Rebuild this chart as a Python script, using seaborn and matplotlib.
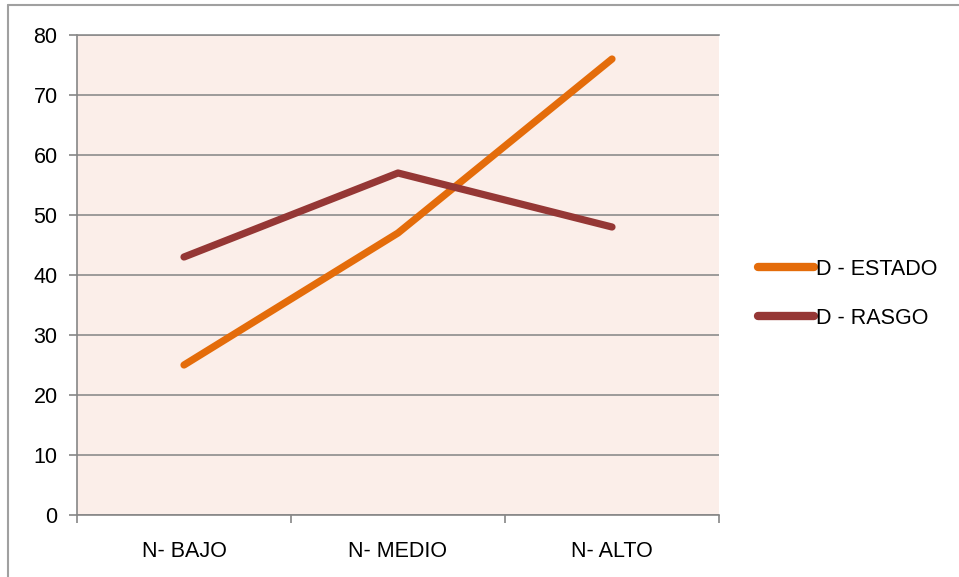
import pandas as pd
import matplotlib.pyplot as plt
import seaborn as sns
from matplotlib.lines import Line2D

categories = ["N- BAJO", "N- MEDIO", "N- ALTO"]
estado = [25, 47, 76]
rasgo = [43, 57, 48]
series_names = ["D - ESTADO", "D - RASGO"]
colors = ["#E46C0A", "#953735"]

df = pd.DataFrame({
    "x": list(range(len(categories))) * 2,
    "value": estado + rasgo,
    "serie": [series_names[0]] * 3 + [series_names[1]] * 3,
})

sns.set_style("white")
plt.rcParams["font.family"] = ["Liberation Sans", "DejaVu Sans"]
plt.rcParams["text.color"] = "black"
plt.rcParams["xtick.color"] = "black"
plt.rcParams["ytick.color"] = "black"

fig = plt.figure(figsize=(9.59, 5.77), dpi=100)
ax = fig.add_axes([77 / 959, 1 - 515 / 577, (719 - 77) / 959, (515 - 35) / 577])
ax.set_facecolor("#FBEEE9")

sns.lineplot(data=df, x="x", y="value", hue="serie", palette=colors,
             linewidth=5.2, ax=ax, legend=False)

ax.set_xlim(-0.5, 2.5)
ax.set_ylim(0, 80)
ax.set_yticks(range(0, 81, 10))
ax.set_xticks([0, 1, 2])
ax.set_xticklabels(categories)
ax.set_xticks([-0.5, 0.5, 1.5, 2.5], minor=True)
ax.tick_params(axis="x", which="major", bottom=False, length=0, pad=19, labelsize=15.5,
               labelcolor="black")
ax.tick_params(axis="x", which="minor", bottom=True, length=6, color="#868686", width=1.2)
ax.tick_params(axis="y", left=True, length=6, color="#868686", width=1.2, pad=8,
               labelsize=15.5, labelcolor="black")
ax.set_xlabel("")
ax.set_ylabel("")
ax.grid(axis="y", color="#8C8C8C", linewidth=1.2)
ax.set_axisbelow(True)
ax.spines["right"].set_visible(False)
ax.spines["top"].set_color("#8C8C8C")
ax.spines["top"].set_linewidth(1.2)
for side in ["left", "bottom"]:
    ax.spines[side].set_color("#868686")
    ax.spines[side].set_linewidth(1.2)
for line in ax.lines:
    line.set_solid_capstyle("round")
    line.set_solid_joinstyle("round")

handles = [Line2D([0], [0], color=c, linewidth=6, solid_capstyle="round") for c in colors]
fig.legend(handles, series_names, loc="center left", bbox_to_anchor=(739 / 959, 1 - 294 / 577),
           frameon=False, fontsize=15.5, handlelength=2.6, handletextpad=0.1,
           labelspacing=1.3)

# outer chart border (top and left only visible)
fig.add_artist(Line2D([8 / 959, 8 / 959], [0, 1 - 5 / 577], color="#A0A0A0", linewidth=1.5,
                      transform=fig.transFigure))
fig.add_artist(Line2D([8 / 959, 1], [1 - 5 / 577, 1 - 5 / 577], color="#A0A0A0", linewidth=1.5,
                      transform=fig.transFigure))

fig.savefig("out.png", dpi=100)
